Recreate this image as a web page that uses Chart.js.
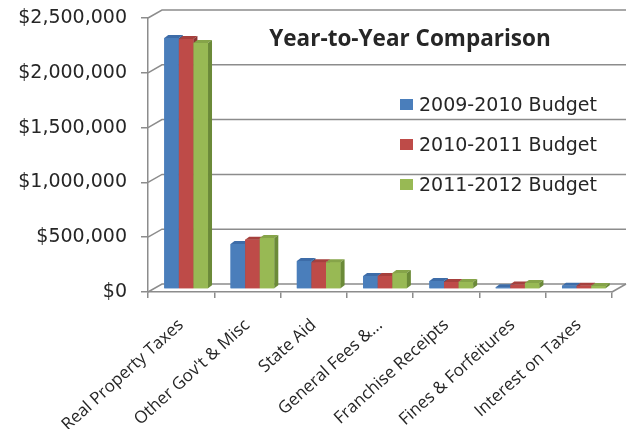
<!DOCTYPE html>
<html>
<head>
<meta charset="utf-8">
<script src="https://cdn.jsdelivr.net/npm/chart.js@4"></script>
<style>
  body { margin: 0; background: #fff; }
  #wrap { width: 633px; height: 429px; }
</style>
</head>
<body>
<div id="wrap"><canvas id="myChart"></canvas></div>
<script>
// data
const categories = ['Real Property Taxes', "Other Gov't & Misc", 'State Aid', 'General Fees &...',
  'Franchise Receipts', 'Fines & Forfeitures', 'Interest on Taxes'];
const seriesNames = ['2009-2010 Budget', '2010-2011 Budget', '2011-2012 Budget'];
const budget0910 = [2290000, 410000, 255000, 118000, 73000, 15000, 30000];
const budget1011 = [2280000, 450000, 245000, 118000, 64000, 40000, 30000];
const budget1112 = [2245000, 465000, 245000, 145000, 64000, 55000, 28000];
const yTicks = [0, 500000, 1000000, 1500000, 2000000, 2500000];

const frontColors = ['#4a7ebb', '#be4b48', '#98b954'];
const topColors = ['#3d6ca8', '#a6403d', '#86a449'];
const sideColors = ['#2f5a8e', '#8c3533', '#6b8a38'];

const DX = 14, DY = 8;          // depth of the back wall
const SX = 5, SY = -3;          // bars stand half way in
const BDX = 4, BDY = 3;         // depth of one bar

const box3d = {
  id: 'box3d',
  beforeDatasetsDraw(chart) {
    const {ctx, chartArea: a} = chart;
    const y = chart.scales.y;
    ctx.save();
    ctx.strokeStyle = '#8c8c8c';
    ctx.lineWidth = 1.5;
    y.ticks.forEach(t => {
      const py = y.getPixelForValue(t.value);
      ctx.beginPath();
      ctx.moveTo(a.left, py);
      ctx.lineTo(a.left + DX, py - DY);
      ctx.lineTo(a.right + DX, py - DY);
      ctx.stroke();
    });
    ctx.beginPath();
    ctx.moveTo(a.right, a.bottom);
    ctx.lineTo(a.right + DX, a.bottom - DY);
    ctx.stroke();
    ctx.restore();
    // bars are drawn a bit back from the front plane
    ctx.save();
    ctx.translate(SX, SY);
  },
  afterDatasetsDraw(chart) {
    const ctx = chart.ctx;
    for (let i = 0; i < categories.length; i++) {
      chart.data.datasets.forEach((ds, d) => {
        const bar = chart.getDatasetMeta(d).data[i];
        const l = bar.x - bar.width / 2, r = bar.x + bar.width / 2, t = bar.y, b = bar.base;
        ctx.fillStyle = frontColors[d];
        ctx.fillRect(l, t, r - l, b - t);
        ctx.fillStyle = topColors[d];
        ctx.beginPath();
        ctx.moveTo(l, t); ctx.lineTo(l + BDX, t - BDY); ctx.lineTo(r + BDX, t - BDY); ctx.lineTo(r, t);
        ctx.closePath(); ctx.fill();
        ctx.fillStyle = sideColors[d];
        ctx.beginPath();
        ctx.moveTo(r, t); ctx.lineTo(r + BDX, t - BDY); ctx.lineTo(r + BDX, b - BDY); ctx.lineTo(r, b);
        ctx.closePath(); ctx.fill();
      });
    }
    ctx.restore();

    // title and legend sit inside the plot
    ctx.save();
    ctx.fillStyle = '#262626';
    ctx.textAlign = 'center';
    ctx.font = 'bold 22.5px "Open Sans"';
    ctx.fillText('Year-to-Year Comparison', 410, 46);
    ctx.textAlign = 'left';
    ctx.font = '19px "DejaVu Sans"';
    chart.data.datasets.forEach((ds, d) => {
      ctx.fillStyle = frontColors[d];
      ctx.fillRect(400, 99 + 40 * d, 13, 11);
      ctx.fillStyle = '#262626';
      ctx.fillText(ds.label, 419, 111 + 40 * d);
    });
    ctx.restore();
  }
};

const ctx = document.getElementById('myChart').getContext('2d');
new Chart(ctx, {
  type: 'bar',
  data: {
    labels: categories,
    datasets: [budget0910, budget1011, budget1112].map((vals, d) => ({
      label: seriesNames[d],
      data: vals,
      backgroundColor: frontColors[d],
      barPercentage: 1,
      categoryPercentage: 0.66
    }))
  },
  options: {
    responsive: true,
    maintainAspectRatio: false,
    animation: false,
    layout: { padding: { left: 17, right: 21, top: 18, bottom: 0 } },
    plugins: {
      legend: { display: false },
      tooltip: { enabled: false }
    },
    scales: {
      x: {
        grid: { drawOnChartArea: false, tickLength: 6, color: '#8c8c8c', lineWidth: 1.5 },
        border: { color: '#8c8c8c', width: 1.5 },
        ticks: {
          minRotation: 42, maxRotation: 42, autoSkip: false, padding: 17,
          color: '#262626',
          font: { family: 'Open Sans', size: 17 }
        },
        afterFit: s => { s.height = 137; }
      },
      y: {
        min: yTicks[0],
        max: yTicks[yTicks.length - 1],
        afterBuildTicks: s => { s.ticks = yTicks.map(v => ({ value: v })); },
        grid: { drawOnChartArea: false, tickLength: 7, color: '#8c8c8c', lineWidth: 1.5 },
        border: { color: '#8c8c8c', width: 1.5 },
        ticks: {
          padding: 14,
          color: '#262626',
          font: { family: 'DejaVu Sans', size: 19 },
          callback: v => '$' + v.toLocaleString('en-US')
        },
        afterFit: s => { s.width = 131; s.paddingTop = 0; s.paddingBottom = 0; }
      }
    }
  },
  plugins: [box3d]
});
</script>
</body>
</html>
